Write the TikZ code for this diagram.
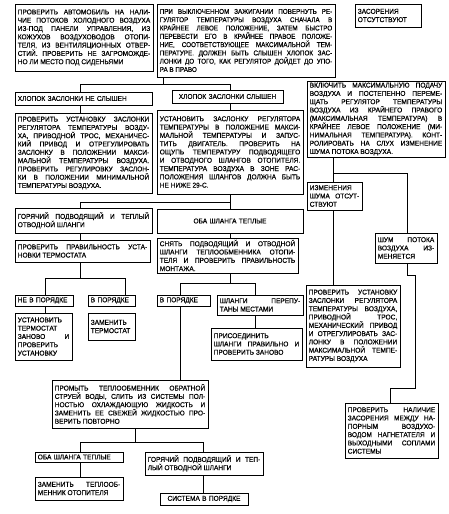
\documentclass[tikz,border=0pt]{standalone}
\usepackage{fontspec}
\setmainfont{Liberation Sans}[FakeBold=0.3,FakeStretch=0.94]
\newfontfamily\narrowfam{Liberation Sans}[FakeBold=0.3,FakeStretch=0.9]
\tikzset{
  frame/.style={draw, line width=1pt, inner sep=0pt, outer sep=0pt},
  txt/.style={inner sep=0pt, font=\fontsize{7.0}{8.3}\selectfont, align=justify},
  narrowtxt/.style={font=\narrowfam\fontsize{7.0}{8.3}\selectfont},
  conn/.style={line width=0.75pt}
}
\newcommand\fbx[7][]{%
  \pgfmathsetmacro\bw{#5-#3}%
  \pgfmathsetmacro\bh{#6-#4}%
  \pgfmathsetmacro\bcx{(#3+#5)/2}%
  \pgfmathsetmacro\bcy{(#4+#6)/2}%
  \pgfmathsetmacro\tw{#5-#3-5.5}%
  \node[frame, minimum width=\bw pt, minimum height=\bh pt] (#2) at (\bcx,\bcy) {};
  \node[txt, text width=\tw pt, #1] (#2t) at (\bcx,\bcy) {#7};
}
\begin{document}
\begin{tikzpicture}[x=1pt,y=-1pt]
\useasboundingbox (0,0) rectangle (449,514);
% top row
\fbx{A}{15}{4}{153}{71}{ПРОВЕРИТЬ АВТОМОБИЛЬ НА НАЛИ-\linebreak ЧИЕ ПОТОКОВ ХОЛОДНОГО ВОЗДУХА\linebreak ИЗ-ПОД ПАНЕЛИ УПРАВЛЕНИЯ, ИЗ\linebreak КОЖУХОВ ВОЗДУХОВОДОВ ОТОПИ-\linebreak ТЕЛЯ, ИЗ ВЕНТИЛЯЦИОННЫХ ОТВЕР-\linebreak СТИЙ. ПРОВЕРИТЬ НЕ ЗАГРОМОЖДЕ-\linebreak НО ЛИ МЕСТО ПОД СИДЕНЬЯМИ}
\fbx[narrowtxt]{B}{157}{4}{335}{77}{ПРИ ВЫКЛЮЧЕННОМ ЗАЖИГАНИИ ПОВЕРНУТЬ РЕ-\linebreak ГУЛЯТОР ТЕМПЕРАТУРЫ ВОЗДУХА СНАЧАЛА В\linebreak КРАЙНЕЕ ЛЕВОЕ ПОЛОЖЕНИЕ, ЗАТЕМ БЫСТРО\linebreak ПЕРЕВЕСТИ ЕГО В КРАЙНЕЕ ПРАВОЕ ПОЛОЖЕ-\linebreak НИЕ, СООТВЕТСТВУЮЩЕЕ МАКСИМАЛЬНОЙ ТЕМ-\linebreak ПЕРАТУРЕ. ДОЛЖЕН БЫТЬ СЛЫШЕН ХЛОПОК ЗАС-\linebreak ЛОНКИ ДО ТОГО, КАК РЕГУЛЯТОР ДОЙДЕТ ДО УПО-\linebreak РА В ПРАВО}
\fbx[align=left]{C}{355}{4}{421}{27}{ЗАСОРЕНИЯ\\ОТСУТСТВУЮТ}
% second row
\fbx[align=left]{NS}{15}{92}{152}{105}{ХЛОПОК ЗАСЛОНКИ НЕ СЛЫШЕН}
\fbx[align=center]{S}{172}{90}{283}{103}{ХЛОПОК ЗАСЛОНКИ СЛЫШЕН}
\fbx{V}{307}{81}{445}{157}{ВКЛЮЧИТЬ МАКСИМАЛЬНУЮ ПОДАЧУ\linebreak ВОЗДУХА И ПОСТЕПЕННО ПЕРЕМЕ-\linebreak ЩАТЬ РЕГУЛЯТОР ТЕМПЕРАТУРЫ\linebreak ВОЗДУХА ИЗ КРАЙНЕГО ПРАВОГО\linebreak (МАКСИМАЛЬНАЯ ТЕМПЕРАТУРА) В\linebreak КРАЙНЕЕ ЛЕВОЕ ПОЛОЖЕНИЕ (МИ-\linebreak НИМАЛЬНАЯ ТЕМПЕРАТУРА). КОНТ-\linebreak РОЛИРОВАТЬ НА СЛУХ ИЗМЕНЕНИЕ\linebreak ШУМА ПОТОКА ВОЗДУХА.}
\fbx{P1}{15}{113}{152}{193}{ПРОВЕРИТЬ УСТАНОВКУ ЗАСЛОНКИ\linebreak РЕГУЛЯТОРА ТЕМПЕРАТУРЫ ВОЗДУ-\linebreak ХА, ПРИВОДНОЙ ТРОС, МЕХАНИЧЕС-\linebreak КИЙ ПРИВОД И ОТРЕГУЛИРОВАТЬ\linebreak ЗАСЛОНКУ В ПОЛОЖЕНИИ МАКСИ-\linebreak МАЛЬНОЙ ТЕМПЕРАТУРЫ ВОЗДУХА.\linebreak ПРОВЕРИТЬ РЕГУЛИРОВКУ ЗАСЛОН-\linebreak КИ В ПОЛОЖЕНИИ МИНИМАЛЬНОЙ\linebreak ТЕМПЕРАТУРЫ ВОЗДУХА.}
\fbx{U}{157}{110}{303}{194}{УСТАНОВИТЬ ЗАСЛОНКУ РЕГУЛЯТОРА\linebreak ТЕМПЕРАТУРЫ В ПОЛОЖЕНИЕ МАКСИ-\linebreak МАЛЬНОЙ ТЕМПЕРАТУРЫ И ЗАПУС-\linebreak ТИТЬ ДВИГАТЕЛЬ. ПРОВЕРИТЬ НА\linebreak ОЩУПЬ ТЕМПЕРАТУРУ ПОДВОДЯЩЕГО\linebreak И ОТВОДНОГО ШЛАНГОВ ОТОПИТЕЛЯ.\linebreak ТЕМПЕРАТУРА ВОЗДУХА В ЗОНЕ РАС-\linebreak ПОЛОЖЕНИЯ ШЛАНГОВ ДОЛЖНА БЫТЬ\linebreak НЕ НИЖЕ 29-С.}
\fbx{IZ}{307}{182}{362}{210}{ИЗМЕНЕНИЯ\linebreak ШУМА ОТСУТ-\linebreak СТВУЮТ}
% third row
\fbx{G1}{15}{208}{152}{233}{ГОРЯЧИЙ ПОДВОДЯЩИЙ И ТЕПЛЫЙ\linebreak ОТВОДНОЙ ШЛАНГИ}
\fbx[align=center]{O1}{157}{209}{303}{233}{ОБА ШЛАНГА ТЕПЛЫЕ}
\fbx{SHUM}{375}{233}{437}{263}{ШУМ ПОТОКА\linebreak ВОЗДУХА ИЗ-\linebreak МЕНЯЕТСЯ}
\fbx{PT}{15}{240}{150}{262}{ПРОВЕРИТЬ ПРАВИЛЬНОСТЬ УСТА-\linebreak НОВКИ ТЕРМОСТАТА}
\fbx{SN}{157}{238}{298}{273}{СНЯТЬ ПОДВОДЯЩИЙ И ОТВОДНОЙ\linebreak ШЛАНГИ ТЕПЛООБМЕННИКА ОТОПИ-\linebreak ТЕЛЯ И ПРОВЕРИТЬ ПРАВИЛЬНОСТЬ\linebreak МОНТАЖА.}
\fbx{PU}{306}{285}{400}{367}{ПРОВЕРИТЬ УСТАНОВКУ\linebreak ЗАСЛОНКИ РЕГУЛЯТОРА\linebreak ТЕМПЕРАТУРЫ ВОЗДУХА,\linebreak ПРИВОДНОЙ ТРОС,\linebreak МЕХАНИЧЕСКИЙ ПРИВОД\linebreak И ОТРЕГУЛИРОВАТЬ ЗАС-\linebreak ЛОНКУ В ПОЛОЖЕНИИ\linebreak МАКСИМАЛЬНОЙ ТЕМПЕ-\linebreak РАТУРЫ ВОЗДУХА}
% small boxes
\fbx[align=left]{NP}{15}{295}{73}{306}{НЕ В ПОРЯДКЕ}
\fbx[align=left]{VP}{88}{295}{135}{306}{В ПОРЯДКЕ}
\fbx{UT}{15}{313}{72}{360}{УСТАНОВИТЬ\linebreak ТЕРМОСТАТ\linebreak ЗАНОВО И\linebreak ПРОВЕРИТЬ\linebreak УСТАНОВКУ}
\fbx{ZT}{88}{313}{135}{340}{ЗАМЕНИТЬ\linebreak ТЕРМОСТАТ}
\fbx[align=left]{VP2}{157}{295}{210}{306}{В ПОРЯДКЕ}
\fbx{SH}{217}{295}{303}{315}{ШЛАНГИ ПЕРЕПУ-\linebreak ТАНЫ МЕСТАМИ}
\fbx{PR}{211}{328}{302}{360}{ПРИСОЕДИНИТЬ\linebreak ШЛАНГИ ПРАВИЛЬНО И\linebreak ПРОВЕРИТЬ ЗАНОВО}
\fbx{PM}{52}{380}{208}{428}{ПРОМЫТЬ ТЕПЛООБМЕННИК ОБРАТНОЙ\linebreak СТРУЕЙ ВОДЫ, СЛИТЬ ИЗ СИСТЕМЫ ПОЛ-\linebreak НОСТЬЮ ОХЛАЖДАЮЩУЮ ЖИДКОСТЬ И\linebreak ЗАМЕНИТЬ ЕЕ СВЕЖЕЙ ЖИДКОСТЬЮ ПРО-\linebreak ВЕРИТЬ ПОВТОРНО}
\fbx{PN}{345}{403}{438}{458}{ПРОВЕРИТЬ НАЛИЧИЕ\linebreak ЗАСОРЕНИЯ МЕЖДУ НА-\linebreak ПОРНЫМ ВОЗДУХО-\linebreak ВОДОМ НАГНЕТАТЕЛЯ И\linebreak ВЫХОДНЫМИ СОПЛАМИ\linebreak СИСТЕМЫ}
\fbx[align=left]{O2}{35}{452}{123}{462}{ОБА ШЛАНГА ТЕПЛЫЕ}
\fbx{G2}{145}{452}{263}{475}{ГОРЯЧИЙ ПОДВОДЯЩИЙ И ТЕП-\linebreak ЛЫЙ ОТВОДНОЙ ШЛАНГИ}
\fbx{ZT2}{35}{477}{123}{500}{ЗАМЕНИТЬ ТЕПЛООБ-\linebreak МЕННИК ОТОПИТЕЛЯ}
\fbx[align=center]{SS}{160}{493}{248}{505}{СИСТЕМА В ПОРЯДКЕ}
% connectors
\coordinate (t0) at (80,84);
\coordinate (t1) at (163,84);
\coordinate (t2) at (230,84);
\draw[conn] (t1 |- B.south) -- (t1);
\draw[conn] (t0) -- (t2);
\draw[conn] (t0) -- (t0 |- NS.north);
\draw[conn] (t2) -- (t2 |- S.north);
\draw[conn] (t0 |- NS.south) -- (t0 |- P1.north);
\draw[conn] (t2 |- S.south) -- (t2 |- U.north);
\coordinate (u0) at (80,202);
\coordinate (u1) at (230,202);
\draw[conn] (u1 |- U.south) -- (u1 |- O1.north);
\draw[conn] (u0) -- (u1);
\draw[conn] (u0) -- (u0 |- G1.north);
\draw[conn] (u0 |- G1.south) -- (u0 |- PT.north);
\coordinate (p0) at (45,278);
\coordinate (p1) at (80,278);
\coordinate (p2) at (125,278);
\draw[conn] (p1 |- PT.south) -- (p1);
\draw[conn] (p0) -- (p2);
\draw[conn] (p0) -- (p0 |- NP.north);
\draw[conn] (p2) -- (p2 |- VP.north);
\draw[conn] (p0 |- NP.south) -- (p0 |- UT.north);
\draw[conn] (u1 |- O1.south) -- (u1 |- SN.north);
\coordinate (s0) at (180,283);
\coordinate (s1) at (230,283);
\coordinate (s2) at (255,283);
\draw[conn] (s1 |- SN.south) -- (s1);
\draw[conn] (s0) -- (s2);
\draw[conn] (s0) -- (s0 |- VP2.north);
\draw[conn] (s2) -- (s2 |- SH.north);
\draw[conn] (s2 |- SH.south) -- (s2 |- PR.north);
\draw[conn] (s0 |- VP2.south) -- (s0 |- PM.north);
\coordinate (m0) at (80,442);
\coordinate (m1) at (135,442);
\coordinate (m2) at (203,442);
\draw[conn] (m1 |- PM.south) -- (m1);
\draw[conn] (m0) -- (m2);
\draw[conn] (m0) -- (m0 |- O2.north);
\draw[conn] (m2) -- (m2 |- G2.north);
\draw[conn] (m0 |- O2.south) -- (m0 |- ZT2.north);
\draw[conn] (m2 |- G2.south) -- (m2 |- SS.north);
\coordinate (r0) at (333,173);
\coordinate (r1) at (407,173);
\draw[conn] (r0 |- V.south) -- (r0 |- IZ.north);
\draw[conn] (r0) -- (r1) -- (r1 |- SHUM.north);
\draw[conn] (r0 |- IZ.south) -- (r0 |- PU.north);
\coordinate (z1) at (407,275);
\coordinate (z2) at (415,275);
\coordinate (z3) at (415,388);
\coordinate (z4) at (390,388);
\draw[conn] (z1 |- SHUM.south) -- (z1) -- (z2) -- (z3) -- (z4) -- (z4 |- PN.north);
\end{tikzpicture}
\end{document}
